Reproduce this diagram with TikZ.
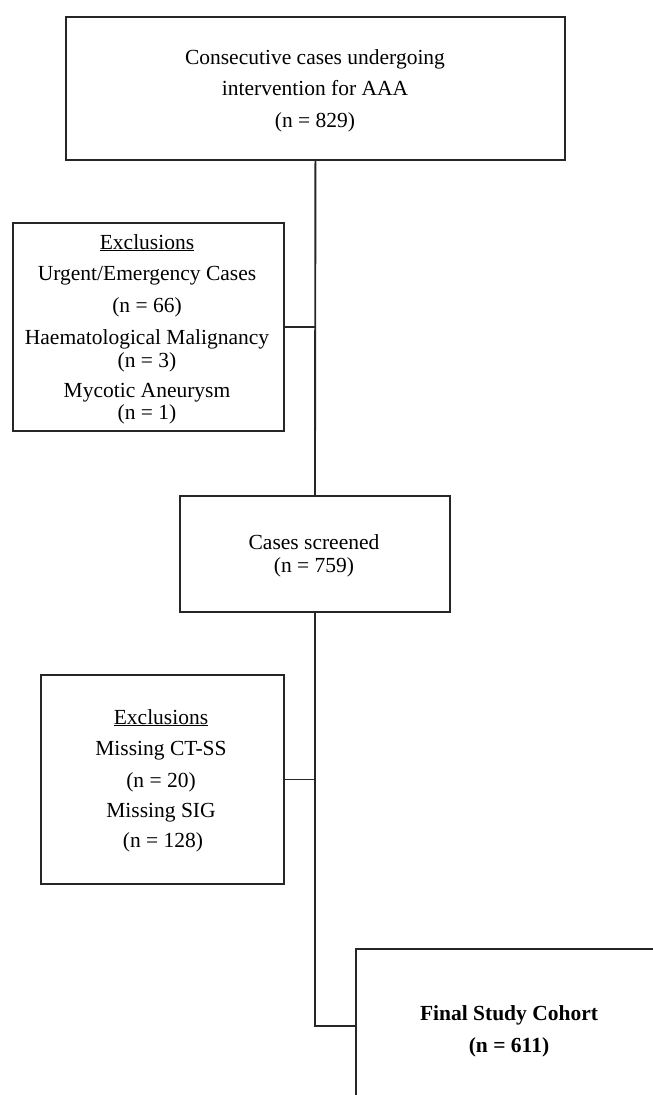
\documentclass[tikz,border=0pt]{standalone}
\usepackage{fontspec}
\setmainfont{Liberation Serif}
\begin{document}
\begin{tikzpicture}[x=1pt,y=-1pt,
  box/.style={draw=black!85,line width=1.9pt,inner sep=0pt,anchor=north west},
  txt/.style={anchor=base,inner sep=0pt,font=\fontsize{21.5}{24}\selectfont},
  link/.style={draw=black!85,line width=1.9pt}]
\useasboundingbox (0,0) rectangle (653,1095);
\clip (0,0) rectangle (653,1095);
% boxes
\node[box,minimum width=499pt,minimum height=143pt] (top) at (65,16) {};
\node[box,minimum width=271pt,minimum height=208pt] (ex1) at (12,222) {};
\node[box,minimum width=270pt,minimum height=116pt] (scr) at (179,495) {};
\node[box,minimum width=243pt,minimum height=209pt] (ex2) at (40,674) {};
\node[box,minimum width=310pt,minimum height=154pt] (fin) at (355,948) {};
% texts
\node[txt] (t1) at (315,64) {Consecutive cases undergoing};
\node[txt] (t2) at (315,95) {intervention for AAA};
\node[txt] (t3) at (315,127) {(n = 829)};
\node[txt] (e1) at (147,249) {\underline{Exclusions}};
\node[txt] (e2) at (147,280) {Urgent/Emergency Cases};
\node[txt] (e3) at (147,312) {(n = 66)};
\node[txt] (e4) at (147,344) {Haematological Malignancy};
\node[txt] (e5) at (147,367) {(n = 3)};
\node[txt] (e6) at (147,397) {Mycotic Aneurysm};
\node[txt] (e7) at (147,419) {(n = 1)};
\node[txt] (s1) at (314,549) {Cases screened};
\node[txt] (s2) at (314,572) {(n = 759)};
\node[txt] (x1) at (161,724) {\underline{Exclusions}};
\node[txt] (x2) at (161,755) {Missing CT-SS};
\node[txt] (x3) at (161,787) {(n = 20)};
\node[txt] (x4) at (161,817) {Missing SIG};
\node[txt] (x5) at (163,847) {(n = 128)};
\node[txt,font=\fontsize{21.5}{24}\selectfont\bfseries] (f1) at (509,1020) {Final Study Cohort};
\node[txt,font=\fontsize{21.5}{24}\selectfont\bfseries] (f2) at (509,1052) {(n = 611)};
% connectors
\coordinate (j1) at (ex1.east -| top.south);
\coordinate (j2) at (ex2.east -| top.south);
\draw[link] (top.south) -- (scr.north);
\draw[link] (ex1.east) -- (j1);
\draw[link] (scr.south) |- (fin.west);
\draw[link] (ex2.east) -- (j2);
\end{tikzpicture}
\end{document}
